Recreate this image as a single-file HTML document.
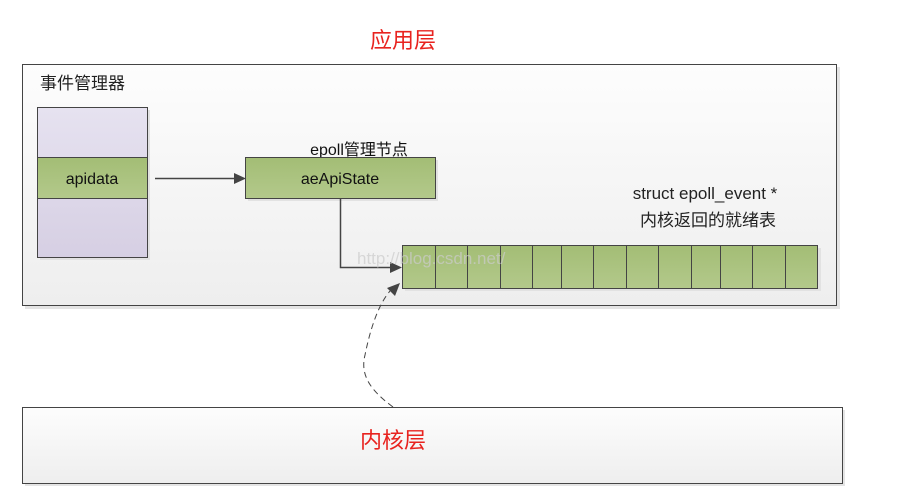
<!DOCTYPE html>
<html><head><meta charset="utf-8"><style>
body{margin:0;background:#fff;width:906px;height:498px;overflow:hidden}
svg text{font-family:"Liberation Sans","Noto Sans CJK SC",sans-serif}
</style></head><body>
<svg width="906" height="498" viewBox="0 0 906 498" xmlns="http://www.w3.org/2000/svg">
<defs>
<linearGradient id="gg" x1="0" y1="0" x2="0" y2="1"><stop offset="0" stop-color="#fdfdfd"/><stop offset="1" stop-color="#eeeeee"/></linearGradient>
<linearGradient id="pg" x1="0" y1="0" x2="0" y2="1"><stop offset="0" stop-color="#e6e2f0"/><stop offset="1" stop-color="#d6cfe3"/></linearGradient>
<linearGradient id="gr" x1="0" y1="0" x2="0" y2="1"><stop offset="0" stop-color="#a3bd75"/><stop offset="1" stop-color="#b3c98b"/></linearGradient>
</defs>
<text x="403" y="48" font-size="22" fill="#e8231f" text-anchor="middle" font-family="Noto Sans CJK SC">应用层</text>
<rect x="25" y="67" width="815" height="242" fill="#e4e4e4"/>
<rect x="22.5" y="64.5" width="814" height="241" fill="url(#gg)" stroke="#444"/>
<text x="40" y="89" font-size="17" fill="#222">事件管理器</text>
<rect x="40" y="110" width="110" height="150" fill="#e2e2e2"/>
<rect x="37.5" y="107.5" width="110" height="150" fill="url(#pg)" stroke="#444"/>
<rect x="37.5" y="157.5" width="110" height="41" fill="url(#gr)" stroke="#444"/>
<text x="92" y="184" font-size="16" fill="#111" text-anchor="middle">apidata</text>
<line x1="155" y1="178.5" x2="238" y2="178.5" stroke="#444" stroke-width="1.5"/>
<polygon points="246,178.5 234,173 234,184" fill="#444"/>
<text x="359" y="155" font-size="16" fill="#111" text-anchor="middle">epoll管理节点</text>
<rect x="248" y="160" width="190" height="41" fill="#e2e2e2"/>
<rect x="245.5" y="157.5" width="190" height="41" fill="url(#gr)" stroke="#444"/>
<text x="340" y="184" font-size="16" fill="#111" text-anchor="middle">aeApiState</text>
<polyline points="340.5,199 340.5,267.5 394,267.5" fill="none" stroke="#444" stroke-width="1.5"/>
<polygon points="402,267.5 390,262 390,273" fill="#444"/>
<text x="705" y="199" font-size="17" fill="#222" text-anchor="middle" font-family="Liberation Mono,monospace">struct epoll_event *</text>
<text x="708" y="226" font-size="17" fill="#222" text-anchor="middle" font-family="Noto Serif CJK SC,serif">内核返回的就绪表</text>
<rect x="405" y="248" width="416" height="43" fill="#e2e2e2"/>
<rect x="402.5" y="245.5" width="415" height="43" fill="url(#gr)" stroke="#444"/>
<g stroke="#444">
<line x1="435.5" y1="245" x2="435.5" y2="288"/><line x1="467.5" y1="245" x2="467.5" y2="288"/>
<line x1="500.5" y1="245" x2="500.5" y2="288"/><line x1="532.5" y1="245" x2="532.5" y2="288"/>
<line x1="561.5" y1="245" x2="561.5" y2="288"/><line x1="593.5" y1="245" x2="593.5" y2="288"/>
<line x1="626.5" y1="245" x2="626.5" y2="288"/><line x1="658.5" y1="245" x2="658.5" y2="288"/>
<line x1="691.5" y1="245" x2="691.5" y2="288"/><line x1="720.5" y1="245" x2="720.5" y2="288"/>
<line x1="752.5" y1="245" x2="752.5" y2="288"/><line x1="785.5" y1="245" x2="785.5" y2="288"/>
</g>
<text x="357" y="264" font-size="17" fill="#ccc" font-family="Liberation Serif,serif" opacity="0.7">http://blog.csdn.net/</text>
<path d="M393,407 C370,390 360,375 365,355 C370,330 378,305 390,291" fill="none" stroke="#444" stroke-dasharray="6,4"/>
<polygon points="400,283 387,288 395,296" fill="#444"/>
<rect x="25" y="410" width="820" height="76" fill="#e4e4e4"/>
<rect x="22.5" y="407.5" width="820" height="76" fill="url(#gg)" stroke="#444"/>
<text x="393" y="448" font-size="22" fill="#e8231f" text-anchor="middle" font-family="Noto Sans CJK SC">内核层</text>
</svg>
</body></html>
